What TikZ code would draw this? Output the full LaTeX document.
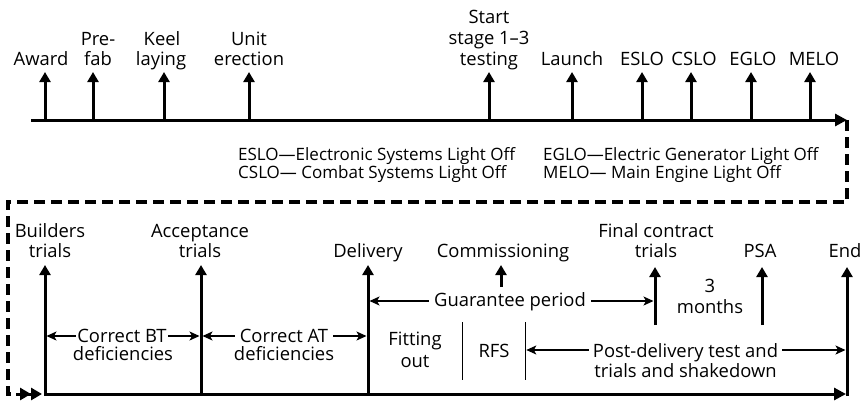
\documentclass[tikz,border=0pt]{standalone}
\usepackage{fontspec}
\setmainfont{Open Sans}
\usetikzlibrary{arrows.meta}
\newcommand\mainsz{\fontsize{18.4}{21}\selectfont}
\newcommand\legsz{\fontsize{17}{19}\selectfont}
\begin{document}
\begin{tikzpicture}[x=1pt,y=-1pt,
  every node/.style={inner sep=0pt, anchor=base, font=\mainsz},
  leg/.style={anchor=base west, font=\legsz},
  cover/.style={fill=white, inner xsep=#1, inner ysep=2pt},
  axis/.style={line width=3pt, -{Triangle[length=12pt,width=12pt]}},
  evt/.style={line width=3pt, -{Triangle[length=10pt,width=11pt]}},
  period/.style={line width=1.2pt,
    {Stealth[length=10pt,width=9pt,inset=2.5pt]}-{Stealth[length=10pt,width=9pt,inset=2.5pt]}},
  divider/.style={line width=1.2pt},
  carryover/.style={line width=3.2pt, dash pattern=on 11pt off 6pt, line join=miter},
  carrytip/.style={line width=3pt,
    -{Triangle[length=11pt,width=12pt]Triangle[length=11pt,width=12pt]}}
]
\useasboundingbox (0,0) rectangle (865,402);

% ---------- upper time line: construction milestones ----------
\coordinate (ts) at (31,120);
\coordinate (te) at (847,120);
\draw[axis] (ts) -- (te);
\foreach \n/\x in {aw/45, pf/93, kl/164, ue/249, ss/489, la/572,
                   es/642, cs/691, eg/751, me/810}{
  \coordinate (\n0) at (\x,120);
  \coordinate (\n1) at (\x,72);
  \draw[evt] (\n0) -- (\n1);
}
\node (awL) at (41,65) {Award};
\node (pfA) at (98,45) {Pre-};
\node (pfB) at (98,65) {fab};
\node (klA) at (162,45) {Keel};
\node (klB) at (161,65) {laying};
\node (ueA) at (249,45) {Unit};
\node (ueB) at (249,65) {erection};
\node (ssA) at (489,23) {Start};
\node (ssB) at (489,44) {stage 1–3};
\node (ssC) at (489,65) {testing};
\node (laL) at (572,65) {Launch};
\node (esL) at (642,65) {ESLO};
\node (csL) at (694,65) {CSLO};
\node (egL) at (753,65) {EGLO};
\node (meL) at (814,65) {MELO};

% ---------- abbreviations ----------
\node[leg] (lg1) at (238,160) {ESLO—Electronic Systems Light Off};
\node[leg] (lg2) at (238,178) {CSLO— Combat Systems Light Off};
\node[leg] (lg3) at (543,160) {EGLO—Electric Generator Light Off};
\node[leg] (lg4) at (543,178) {MELO— Main Engine Light Off};

% ---------- dashed continuation to the lower line ----------
\coordinate (f1) at (847,202);
\coordinate (f2) at (8,202);
\coordinate (f3) at (8,394);
\coordinate (f4) at (16,394);
\coordinate (fe) at (42,394);
\draw[carryover] (te) -- (f1) -- (f2) -- (f3) -- (f4);
\draw[carrytip] (f4) -- (fe);

% ---------- lower time line: trials and delivery ----------
\coordinate (bs) at (44,394);
\coordinate (be) at (846,394);
\draw[axis] (bs) -- (be);
\foreach \n/\x in {bt/45, at/201, dl/368}{
  \coordinate (\n0) at (\x,395);
  \coordinate (\n1) at (\x,265);
  \draw[evt] (\n0) -- (\n1);
}
\coordinate (en0) at (847,396);
\coordinate (en1) at (847,267);
\draw[evt] (en0) -- (en1);
\coordinate (cm0) at (501,287);
\coordinate (cm1) at (501,265);
\draw[evt] (cm0) -- (cm1);
\coordinate (fc0) at (655,325);
\coordinate (fc1) at (655,267);
\draw[evt] (fc0) -- (fc1);
\coordinate (ps0) at (762,325);
\coordinate (ps1) at (762,267);
\draw[evt] (ps0) -- (ps1);

% period dividers
\coordinate (dv1a) at (462.7,322);
\coordinate (dv1b) at (462.7,380);
\coordinate (dv2a) at (525.7,322);
\coordinate (dv2b) at (525.7,380);
\draw[divider] (dv1a) -- (dv1b);
\draw[divider] (dv2a) -- (dv2b);

% period spans
\coordinate (p1a) at (45,336);
\coordinate (p1b) at (201,336);
\coordinate (p2a) at (201,336);
\coordinate (p2b) at (368,336);
\coordinate (p3a) at (368,301);
\coordinate (p3b) at (655,301);
\coordinate (p4a) at (525.7,350);
\coordinate (p4b) at (847,350);
\draw[period, shorten <=1.5pt, shorten >=1.5pt] (p1a) -- (p1b);
\draw[period, shorten <=1.5pt, shorten >=1.5pt] (p2a) -- (p2b);
\draw[period, shorten <=1.5pt, shorten >=1.5pt] (p3a) -- (p3b);
\draw[period, shorten <=0.6pt, shorten >=1.5pt] (p4a) -- (p4b);

% span labels
\node[cover=1pt] (cbtA) at (122,342) {Correct BT};
\node (cbtB) at (123,360) {deficiencies};
\node[cover=5pt] (catA) at (284,342) {Correct AT};
\node (catB) at (284,360) {deficiencies};
\node[cover=5pt] (gpL) at (510,306.7) {Guarantee period};
\node[cover=4pt] (pdA) at (685.5,357) {Post-delivery test and};
\node (pdB) at (685.5,377) {trials and shakedown};
\node (foA) at (415,345) {Fitting};
\node (foB) at (415,367) {out};
\node (rfs) at (494,357) {RFS};
\node (tmA) at (710,292) {3};
\node (tmB) at (710,313) {months};

% milestone labels
\node (btA) at (50,237) {Builders};
\node (btB) at (50,257) {trials};
\node (atA) at (200,237) {Acceptance};
\node (atB) at (200,257) {trials};
\node (dlL) at (368,257) {Delivery};
\node (cmL) at (503,257) {Commissioning};
\node (fcA) at (656,237) {Final contract};
\node (fcB) at (656,257) {trials};
\node (psL) at (760,257) {PSA};
\node (enL) at (845,257) {End};
\end{tikzpicture}
\end{document}
